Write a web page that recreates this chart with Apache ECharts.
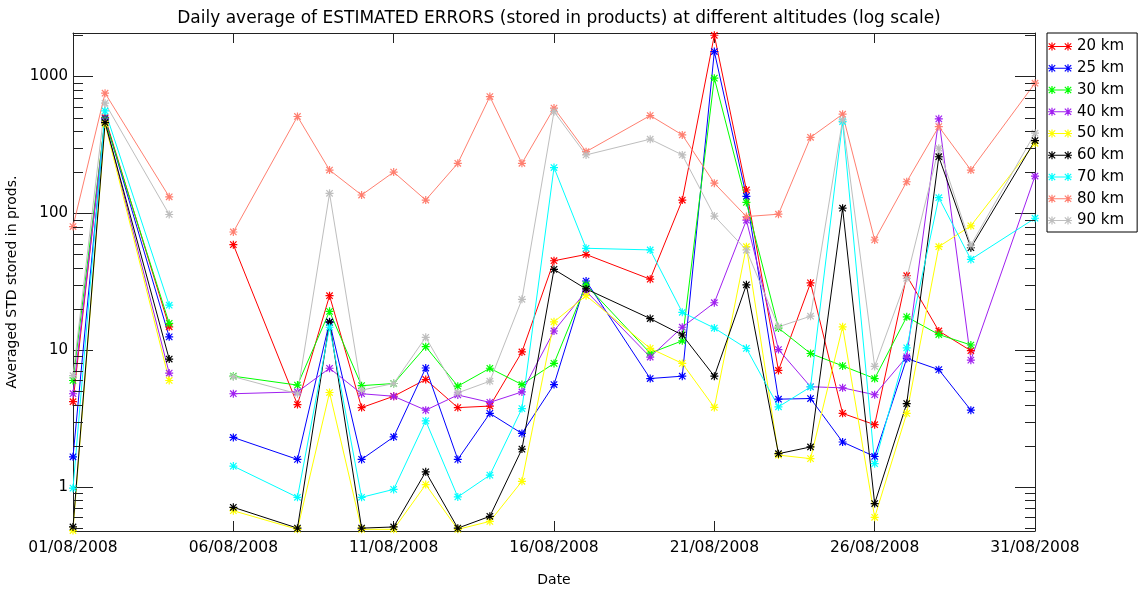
<!DOCTYPE html>
<html><head><meta charset="utf-8">
<script src="https://cdn.jsdelivr.net/npm/echarts@6/dist/echarts.min.js"></script>
<style>html,body{margin:0;padding:0;background:#fff}#c{width:1138px;height:592px}</style>
</head><body><div id="c"></div><script>
// Days of August 2008 (day 5 is a data gap)
const days = [1,2,4,5,6,8,9,10,11,12,13,14,15,16,17,19,20,21,22,23,24,25,26,27,28,29,31];
const s20 = [4.2,500,14.8,null,59,4.0,25,3.8,4.6,6.1,3.8,3.9,9.7,45,50,33,125,2000,148,7.1,31,3.45,2.85,35,13.8,9.9,null];
const s25 = [1.66,490,12.5,null,2.3,1.59,16.1,1.59,2.32,7.4,1.59,3.45,2.46,5.6,32,6.2,6.45,1520,133,4.38,4.43,2.13,1.67,8.7,7.2,3.64,null];
const s30 = [6.0,480,15.7,null,6.45,5.55,19.2,5.5,5.7,10.6,5.45,7.37,5.6,8.0,30,9.5,11.7,972,120,14.5,9.45,7.67,6.2,17.5,13.0,10.9,null];
const s40 = [4.8,470,6.8,null,4.8,4.95,7.37,4.8,4.6,3.64,4.7,4.15,4.95,13.8,27,8.9,14.7,22.2,89,10.1,5.4,5.3,4.72,8.94,490,8.45,187];
const s50 = [0.48,450,6.0,null,0.67,0.49,4.9,0.49,0.49,1.04,0.49,0.56,1.10,16.1,25,10.3,8.0,3.81,57,1.71,1.61,14.8,0.60,3.45,57,81,325];
const s60 = [0.51,460,8.6,null,0.71,0.50,16,0.50,0.51,1.29,0.50,0.61,1.89,38.9,28,17,12.9,6.45,30,1.75,1.96,109,0.756,4.07,259,56,340];
const s70 = [0.98,560,21.3,null,1.42,0.84,14.7,0.84,0.96,3.04,0.845,1.22,3.74,216,55.5,54,18.9,14.5,10.3,3.85,5.38,467,1.48,10.4,130,46,92];
const s80 = [80,755,132,null,73,510,207,136,200,125,232,713,232,587,282,518,374,166,94.6,98.5,359,530,63.8,170,430,207,893];
const s90 = [6.5,638,98,null,6.4,4.8,140,5.1,5.7,12.4,4.87,5.93,23.5,553,267,348,267,95.5,53.9,14.8,17.7,482,7.6,33.5,299,58.5,385];

const seriesNames = ['20 km','25 km','30 km','40 km','50 km','60 km','70 km','80 km','90 km'];
const seriesColors = ['#ff0000','#0000ff','#00ff00','#a020f0','#ffff00','#000000','#00ffff','#ff7f70','#bebebe'];
const seriesValues = [s20,s25,s30,s40,s50,s60,s70,s80,s90];
const xTickLabels = ['01/08/2008','06/08/2008','11/08/2008','16/08/2008','21/08/2008','26/08/2008','31/08/2008'];
const yMinorTicks = [0.5,0.6,0.7,0.8,0.9,2,3,4,5,6,7,8,9,20,30,40,50,60,70,80,90,200,300,400,500,600,700,800,900,2000];
const titleText = 'Daily average of ESTIMATED ERRORS (stored in products) at different altitudes (log scale)';

const FONT = 'DejaVu Sans';
const ASTER = 'path://M0,8.5L20,8.5L20,11.5L0,11.5Z M8.5,0L11.5,0L11.5,20L8.5,20Z M3.06,0.94L19.06,16.94L16.94,19.06L0.94,3.06Z M16.94,0.94L19.06,3.06L3.06,19.06L0.94,16.94Z';
const LEGEND_ICON = 'path://M0,9L60,9L60,11L0,11Z M0,8.5L20,8.5L20,11.5L0,11.5Z M8.5,0L11.5,0L11.5,20L8.5,20Z M3.06,0.94L19.06,16.94L16.94,19.06L0.94,3.06Z M16.94,0.94L19.06,3.06L3.06,19.06L0.94,16.94Z M40,8.5L60,8.5L60,11.5L40,11.5Z M48.5,0L51.5,0L51.5,20L48.5,20Z M43.06,0.94L59.06,16.94L56.94,19.06L40.94,3.06Z M56.94,0.94L59.06,3.06L43.06,19.06L40.94,16.94Z';

const chart = echarts.init(document.getElementById('c'), null, {renderer: 'canvas'});
const AX = '#222';
const axisLine = {show: true, onZero: false, lineStyle: {color: AX, width: 1}};
const yMin = 0.4765, yMax = 2078, xMin = 0, xMax = 30;

const seriesList = seriesNames.map((name, i) => ({
  name: name, type: 'line', xAxisIndex: 0, yAxisIndex: 0,
  data: days.map((d, j) => [d - 1, seriesValues[i][j] == null ? '-' : seriesValues[i][j]]),
  connectNulls: false,
  symbol: ASTER, symbolSize: 8, showAllSymbol: true,
  lineStyle: {color: seriesColors[i], width: 1},
  itemStyle: {color: seriesColors[i], borderWidth: 0},
  emphasis: {disabled: true}
}));

// minor log ticks on the left and right frame edges
seriesList.push({
  name: 'minorTicks', type: 'custom', xAxisIndex: 1, yAxisIndex: 1, silent: true, clip: false, z: 5,
  data: yMinorTicks.map(v => [xMin, v]),
  renderItem: (params, api) => {
    const v = api.value(1);
    const l = api.coord([xMin, v]);
    const r = api.coord([xMax, v]);
    const y = Math.round(l[1]) + 0.5;
    return {type: 'group', children: [
      {type: 'line', shape: {x1: l[0], y1: y, x2: l[0] + 10, y2: y}, style: {stroke: AX, lineWidth: 1}},
      {type: 'line', shape: {x1: r[0] - 10, y1: y, x2: r[0], y2: y}, style: {stroke: AX, lineWidth: 1}}
    ]};
  }
});

chart.setOption({
  animation: false,
  backgroundColor: '#fff',
  title: {
    text: titleText, left: 554, top: 5, textAlign: 'center',
    textStyle: {fontFamily: FONT, fontSize: 17, fontWeight: 'normal', color: '#000'}
  },
  legend: {
    data: seriesNames, orient: 'vertical', left: 1047, top: 33,
    icon: LEGEND_ICON, itemWidth: 24, itemHeight: 8, itemGap: 6.75,
    padding: [6, 13, 4, 1], borderColor: '#000', borderWidth: 1, backgroundColor: '#fff',
    textStyle: {fontFamily: FONT, fontSize: 15, color: '#000'}
  },
  grid: {left: 73, right: 103, top: 33, bottom: 61, containLabel: false, outerBoundsMode: 'none'},
  xAxis: [{
    type: 'value', min: xMin, max: xMax, interval: 5, position: 'bottom',
    name: 'Date', nameLocation: 'middle', nameGap: 42,
    nameTextStyle: {fontFamily: FONT, fontSize: 14, color: '#000'},
    axisLine: axisLine, splitLine: {show: false},
    axisTick: {show: true, inside: true, length: 10, lineStyle: {color: AX}},
    axisLabel: {fontFamily: FONT, fontSize: 15.5, color: '#000', margin: 9,
      formatter: v => xTickLabels[Math.round(v / 5)] || ''}
  }, {
    type: 'value', min: xMin, max: xMax, interval: 5, position: 'top',
    axisLine: axisLine, splitLine: {show: false},
    axisTick: {show: true, inside: true, length: 10, lineStyle: {color: AX}},
    axisLabel: {show: false}
  }],
  yAxis: [{
    type: 'log', logBase: 10, min: yMin, max: yMax, position: 'left',
    name: 'Averaged STD stored in prods.', nameLocation: 'middle', nameGap: 50, nameRotate: 90,
    nameTextStyle: {fontFamily: FONT, fontSize: 14, color: '#000'},
    axisLine: axisLine, splitLine: {show: false},
    axisTick: {show: true, inside: true, length: 20, lineStyle: {color: AX}},
    axisLabel: {fontFamily: FONT, fontSize: 15, color: '#000', margin: 5, showMinLabel: false, showMaxLabel: false,
      formatter: v => String(Math.round(v))}
  }, {
    type: 'log', logBase: 10, min: yMin, max: yMax, position: 'right',
    axisLine: axisLine, splitLine: {show: false},
    axisTick: {show: true, inside: true, length: 20, lineStyle: {color: AX}},
    axisLabel: {show: false}
  }],
  series: seriesList
});
</script></body></html>
